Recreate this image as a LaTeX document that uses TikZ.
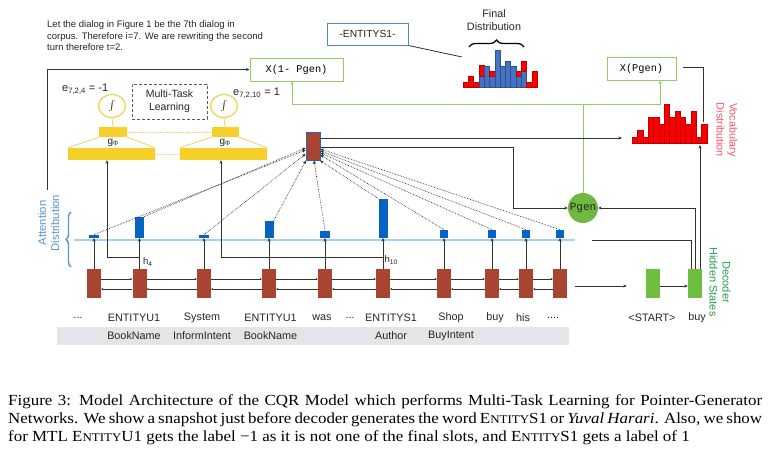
\documentclass[tikz,border=0pt]{standalone}
\usepackage{fontspec}
\setmainfont{Liberation Sans}
\newfontfamily\serifcap[FakeStretch=1.1]{Liberation Serif}
\newfontfamily\monof{Liberation Mono}
\usetikzlibrary{arrows.meta,decorations.pathreplacing,calc,shapes.geometric}
\definecolor{brick}{RGB}{168,68,48}
\definecolor{attblue}{RGB}{5,99,193}
\definecolor{ybox}{RGB}{245,208,40}
\definecolor{yline}{RGB}{240,212,90}
\definecolor{gbox}{RGB}{146,205,100}
\definecolor{gfill}{RGB}{112,184,64}
\definecolor{decg}{RGB}{110,190,65}
\definecolor{lblue}{RGB}{170,208,240}
\definecolor{bandc}{RGB}{228,229,232}
\definecolor{vred}{RGB}{250,0,0}
\definecolor{vredd}{RGB}{190,0,0}
\definecolor{vtxt}{RGB}{245,85,105}
\definecolor{atxt}{RGB}{90,150,210}
\definecolor{dtxt}{RGB}{40,160,80}
\definecolor{entb}{RGB}{80,140,190}
\definecolor{fblue}{RGB}{68,114,196}
\definecolor{fblued}{RGB}{47,82,143}
\definecolor{lineg}{RGB}{50,50,50}
\definecolor{ctxb}{RGB}{40,100,190}
\newcommand{\entcap}[1]{E{\fontsize{11.8}{12}\selectfont NTITY}#1}
\newcommand{\tdthree}{...}
\newcommand{\tdfour}{....}
\begin{document}
\begin{tikzpicture}[x=1pt,y=-1pt,
  >={Stealth[length=3.5pt,width=3pt]},
  encst/.style={fill=brick, minimum width=14pt, minimum height=29pt, inner sep=0},
  decst/.style={fill=decg, minimum width=14pt, minimum height=29pt, inner sep=0},
  attbar/.style={fill=attblue, minimum width=9pt, inner sep=0, anchor=south},
  arr/.style={->, draw=lineg, line width=0.8pt},
  link/.style={-{Stealth[length=2pt,width=2pt]}, draw=lineg, line width=0.8pt},
  conn/.style={draw=lineg, line width=0.8pt},
  attn/.style={->, densely dotted, draw=black!85, line width=0.65pt},
  word/.style={font=\fontsize{10.8}{12}\selectfont, text=black!85, inner sep=0},
  gbx/.style={draw=gbox, line width=1pt, minimum height=23pt, inner sep=0, font=\monof\fontsize{10.3}{11}\selectfont},
  gline/.style={draw=gbox, line width=1pt},
  yrect/.style={fill=ybox, inner sep=0},
  yl/.style={draw=yline, line width=0.8pt},
  ydot/.style={draw=yline, densely dotted, line width=0.8pt},
  rlabel/.style={align=center, inner sep=0, font=\fontsize{11}{13}\selectfont}
]
\useasboundingbox (0,0) rectangle (771,463);
\fill[white] (0,0) rectangle (771,463);

% ---- top paragraph
\node[anchor=north west, inner sep=0, align=left, font=\fontsize{9.5}{11.5}\selectfont, text=black!85] (note) at (47,20.5)
 {Let the dialog in Figure 1 be the 7th dialog in\\corpus. Therefore i=7. We are rewriting the second\\turn therefore t=2.};

% ---- gray band and labels
\fill[bandc] (57,327) rectangle (569,345);
\foreach \x/\t/\n in {78/\tdthree/w1,134/ENTITYU1/w2,202/System/w3,270.5/ENTITYU1/w4,322/was/w5,350/\tdthree/w6,391/ENTITYS1/w7,451/Shop/w8,495/buy/w9,523/his/w10,553/\tdfour/w11,652/<START>/w12,697/buy/w13}
  \node[word] (\n) at (\x,318) {\t};
\foreach \x/\t/\n in {134/BookName/t1,202/InformIntent/t2,270.5/BookName/t3,391/Author/t4,451/BuyIntent/t5}
  \node[word] (\n) at (\x,336) {\t};

% ---- attention baseline
\coordinate (bl0) at (74,240);
\coordinate (bl1) at (575,240);
\draw[draw=lblue, line width=1.6pt] (bl0) -- (bl1);

% ---- encoder states and attention bars
\foreach \x/\h/\w [count=\i] in {94/3/10,139.5/21/9,204/3/10,269/17/9,325/7/10,383/39/9,444/8/8,492/8/8,526/8/8,560/8/8}{
  \node[encst] (e\i) at (\x,283.5) {};
  \node[attbar, minimum height=\h pt, minimum width=\w pt] (a\i) at (\x,238) {};
  \draw[arr] (e\i.north) -- (a\i.south);
}
\foreach \i [evaluate=\i as \j using int(\i+1)] in {1,2,3,4,5,6,7,8,9}{
  \draw[link] ([yshift=4.5pt]e\i.east) -- ([yshift=4.5pt]e\j.west);
  \draw[link] ([yshift=-5.5pt]e\j.west) -- ([yshift=-5.5pt]e\i.east);
}

% ---- decoder states
\node[decst] (d1) at (653,283.5) {};
\node[decst] (d2) at (695,283.5) {};
\draw[arr] ([xshift=8pt,yshift=-2.5pt]e10.east) -- ([xshift=-19pt,yshift=-2.5pt]d1.west);
\draw[arr] ([yshift=-2.5pt]d1.east) -- ([yshift=-2.5pt]d2.west);

% ---- context vector
\node[fill=brick, draw=ctxb, line width=1pt, minimum width=14pt, minimum height=28pt, inner sep=0] (ctx) at (313,146) {};

% ---- attention dotted lines
\draw[attn] (a1.north) -- ([yshift=-4pt]ctx.west);
\draw[attn] (a2.north east) -- ([yshift=-2pt]ctx.west);
\draw[attn] (a3.north) -- ([yshift=-8pt]ctx.west);
\draw[attn] (a4.north east) -- ([xshift=0.5pt]ctx.south west);
\draw[attn] (a5.north) -- ([xshift=1pt]ctx.south);
\draw[attn] (a6.north west) -- ([xshift=-0.5pt]ctx.south east);
\draw[attn] (a7.north) -- ([yshift=-9pt]ctx.east);
\draw[attn] (a8.north) -- ([yshift=-7pt]ctx.east);
\draw[attn] (a9.north) -- ([yshift=-5pt]ctx.east);
\draw[attn] (a10.north) -- ([yshift=-3pt]ctx.east);

% ---- labels attention / decoder
\node[rlabel, text=atxt, rotate=90, font=\fontsize{11.3}{13}\selectfont] (attlbl) at (48.5,223) {Attention\\Distribution};
\draw[atxt, line width=1.4pt, decorate, decoration={brace, amplitude=5pt}] (71,267) -- (71,212);
\node[rlabel, text=dtxt, rotate=-90] (declbl) at (720,282) {Decoder\\Hidden States};

% ---- multi-task section
\node[draw=black!65, densely dashed, line width=0.8pt, minimum width=75pt, minimum height=35pt, inner sep=0, align=center, font=\fontsize{10.5}{13}\selectfont, text=black!85] (mtl) at (169.5,101.5) {Multi-Task\\Learning};
\node[ellipse, draw=yline, line width=1.3pt, fill=white, minimum width=27pt, minimum height=23pt, inner sep=0] (sigL) at (112,106) {$\int$};
\node[ellipse, draw=yline, line width=1.3pt, fill=white, minimum width=27pt, minimum height=23pt, inner sep=0] (sigR) at (224,106) {$\int$};
\node[yrect, minimum width=28pt, minimum height=10pt] (smL) at (113,132) {};
\node[yrect, minimum width=27pt, minimum height=10pt] (smR) at (225,132) {};
\node[yrect, minimum width=87pt, minimum height=12pt] (bigL) at (111.5,154) {};
\node[yrect, minimum width=87pt, minimum height=12pt] (bigR) at (223.5,154) {};
\draw[yl] (sigL.south) -- (smL.north);
\draw[yl] (sigR.south) -- (smR.north);
\draw[yl] (smL.south west) -- (bigL.north west);
\draw[yl] (smL.south east) -- (bigL.north east);
\draw[yl] (smR.south west) -- (bigR.north west);
\draw[yl] (smR.south east) -- (bigR.north east);
\draw[ydot] (smL.east) -- (smR.west);
\draw[ydot] (bigL.east) -- (bigR.west);
\node[inner sep=0, font=\fontsize{10}{11}\selectfont, text=black!85] (gL) at (113,142.5) {g\raisebox{-1pt}{\fontsize{6.5}{7}\selectfont Φ}};
\node[inner sep=0, font=\fontsize{10}{11}\selectfont, text=black!85] (gR) at (225,142.5) {g\raisebox{-1pt}{\fontsize{6.5}{7}\selectfont Φ}};
\node[anchor=west, inner sep=0, font=\fontsize{11}{12}\selectfont, text=black!85] (eL) at (62,89) {e\textsubscript{7,2,4} = -1};
\node[anchor=west, inner sep=0, font=\fontsize{11}{12}\selectfont, text=black!85] (eR) at (233,93) {e\textsubscript{7,2,10} = 1};

% hidden states into MTL
\coordinate (h4tap) at (139.5,257);
\coordinate (h10tap) at (383,257);
\draw[arr] (h4tap) -| ([xshift=-4.5pt]bigL.south);
\draw[arr] (h10tap) -| ([xshift=-2.5pt]bigR.south);
\node[anchor=west, inner sep=0, font=\fontsize{9.5}{10}\selectfont, text=black!85] (h4l) at (143,262) {h\textsubscript{4}};
\node[anchor=west, inner sep=0, font=\fontsize{9.5}{10}\selectfont, text=black!85] (h10l) at (384.5,260) {h\textsubscript{10}};

% ---- X boxes and green lines
\node[gbx, minimum width=93pt] (x1p) at (296.5,69.5) {X(1- Pgen)};
\node[gbx, minimum width=69pt] (xp) at (641.5,68.5) {X(Pgen)};
\node[circle, fill=gfill, minimum size=30pt, inner sep=0, font=\monof\fontsize{11}{12}\selectfont, text=black!85] (pgen) at (583,208) {Pgen};
\coordinate (gj) at (583,104);
\draw[gline] (pgen.north) -- (gj);
\draw[gline,->,draw=gbox] (gj) -| ([xshift=-4.5pt]x1p.south);
\draw[gline,->,draw=gbox] (gj) -| ([xshift=18.5pt]xp.south);

% attention -> X(1-Pgen)
\coordinate (attL) at (47,190);
\draw[arr] (attL) |- (x1p.west);

% ---- vocabulary distribution
\foreach \h [count=\i from 0] in {6,13,6,26,26,19,39,26,32,26,19,32,6,19}
  \draw[fill=vred, draw=vredd, line width=0.3pt] ({632+\i*5.357},143) rectangle ++(5.357,-\h);
\node[rlabel, text=vtxt, rotate=-90, font=\fontsize{10.8}{13}\selectfont] (vlbl) at (727,130) {Vocabulary\\Distribution};
\coordinate (vtop) at (703,122);
\coordinate (vin) at (622,138);
\coordinate (vbot) at (700,145);
\draw[conn] (vtop) |- ([xshift=6pt,yshift=1.5pt]xp.east);

% context -> vocab, context -> pgen
\draw[arr] ([yshift=8pt]ctx.east) -- (vin);
\draw[arr] ([yshift=-1pt]ctx.east) -- (513,147) |- (pgen.west);
% decoder connections
\draw[arr] (d2.north) |- (pgen.east);
\draw[arr] ([xshift=5pt]d2.north) -- (vbot);
\draw[conn] ([xshift=-4pt]d2.north) |- (592,240);

% ---- final distribution
\foreach \b/\r [count=\i from 0] in {0/5,0/11,0/5,11/11,21/0,11/5,37/0,21/0,26/0,21/0,11/5,16/10,0/5,0/16}{
  \ifnum\b>0 \draw[fill=fblue, draw=fblued, line width=0.3pt] ({463+\i*5.286},87) rectangle ++(5.286,-\b); \fi
  \ifnum\r>0 \draw[fill=vred, draw=vredd, line width=0.3pt] ({463+\i*5.286},{87-\b}) rectangle ++(5.286,-\r); \fi
}
\draw[line width=1.3pt, decorate, decoration={brace, amplitude=7pt}] (469,47) -- (524,47);
\node[rlabel, font=\fontsize{10.8}{13}\selectfont, text=black!85] (flbl) at (494,20.5) {Final\\Distribution};
\node[draw=entb, line width=1pt, minimum width=81pt, minimum height=22pt, inner sep=0, font=\fontsize{10.3}{11}\selectfont, text=black!85] (ent) at (367.5,34) {-ENTITYS1-};
\coordinate (fdL) at (462,57);
\draw[conn] (ent.south east) -- (fdL);

% ---- caption
\node[anchor=north west, inner sep=0, text width=754pt, align=justify, font=\serifcap\fontsize{15.4}{18}\selectfont] (cap) at (8,394)
 {Figure 3: Model Architecture of the CQR Model which performs Multi-Task Learning for Pointer-Generator\linebreak Networks. We show a snapshot just before decoder generates the word \entcap{S1} or \textit{Yuval Harari}. Also, we show\linebreak for MTL \entcap{U1} gets the label −1 as it is not one of the final slots, and \entcap{S1} gets a label of 1\par};
\end{tikzpicture}
\end{document}
